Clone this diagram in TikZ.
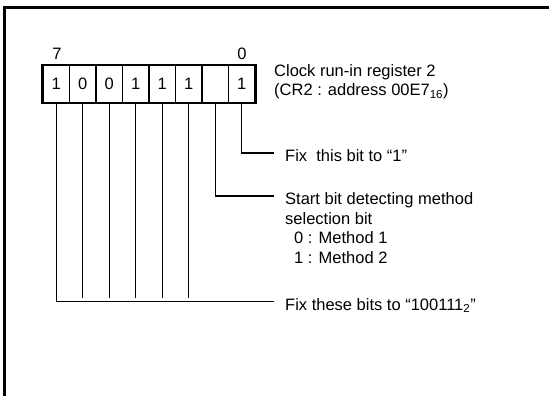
\documentclass[tikz,border=0pt]{standalone}
\usepackage{fontspec}
\setmainfont{Liberation Sans}
\usepackage{tikz}
\usetikzlibrary{calc}

\begin{document}
\begin{tikzpicture}[x=1pt,y=-1pt,
  bitcell/.style={draw,line width=1.3pt,minimum width=26.5pt,minimum height=37pt,inner sep=0pt,font=\fontsize{16.5}{16.5}\selectfont},
  note/.style={anchor=north west,inner sep=0pt,align=left,font=\fontsize{16.5}{19.5}\selectfont},
  lead/.style={line width=1.1pt,shorten >=11pt}]
\useasboundingbox (0,0) rectangle (549,396);
\draw[line width=3pt] (4,396) -- (4,8) -- (549,8);
\foreach \v [count=\i from 0] in {1,0,0,1,1,1,{},1}{
  \pgfmathtruncatemacro{\b}{7-\i}
  \node[bitcell] (b\b) at ({56.25+26.5*\i},84) {\v};
}
\draw[line width=2.6pt] (b7.north west) rectangle (b0.south east);
\node[font=\fontsize{16.5}{16.5}\selectfont] (msb) at (57,54) {7};
\node[font=\fontsize{16.5}{16.5}\selectfont] (lsb) at (242,54) {0};
\node[note] (reg) at (274,64) {Clock run-in register 2\\(CR2 : address 00E7\textsubscript{16})};
\node[note] (fix0) at (285,149.5) {Fix\ \ this bit to “1”};
\node[note] (sel) at (285,192.5) {Start bit detecting method\\selection bit\\\hspace{9pt}0 : Method 1\\\hspace{9pt}1 : Method 2};
\node[note] (fixh) at (285,298) {Fix these bits to “100111\textsubscript{2}”};
\draw[lead] (b0.south) |- ([yshift=-3.5pt]fix0.north west);
\draw[lead] (b1.south) |- ([yshift=-3.5pt]sel.north west);
\draw[lead] (b7.south) |- ([yshift=-3.5pt]fixh.north west);
\foreach \b in {6,5,4,3,2}
  \draw[line width=1.1pt] (b\b.south) -- (b\b.south |- fixh.north west) ++(0,3.5);
\end{tikzpicture}
\end{document}
